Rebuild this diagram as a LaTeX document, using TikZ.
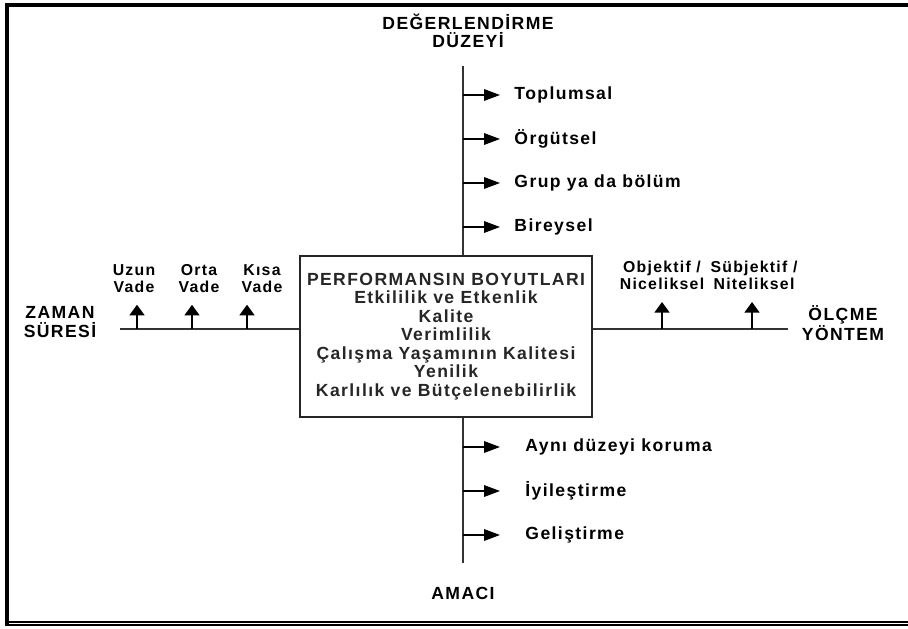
\documentclass[tikz,border=0pt]{standalone}
\usepackage{fontspec}
\setmainfont{Liberation Sans}[LetterSpace=8]
\usetikzlibrary{arrows.meta}

\begin{document}
\begin{tikzpicture}[x=0.02cm, y=-0.02cm, thick, nodes = {align = center}, >={Triangle[width=6.5pt,length=9pt]}]

  \tikzstyle{axis}=[draw, black!80, line width=1.1pt]
  \tikzstyle{lbl}=[font=\bfseries\fontsize{10}{10.4}\selectfont, inner sep=1pt]
  \tikzstyle{small}=[font=\bfseries\fontsize{9}{9.4}\selectfont, inner sep=1pt]
  \tikzstyle{perf}=[draw, black!85, line width=1.1pt, minimum width=5.84cm, minimum height=3.22cm, font=\bfseries\fontsize{10}{10.5}\selectfont]
  \tikzstyle{rarr}=[->, line width=0.9pt, shorten >=0.24cm]
  \tikzstyle{uarr}=[-{Triangle[width=8.5pt,length=6pt]}, line width=0.9pt, shorten >=0.2cm]

  \useasboundingbox (0,0) rectangle (908,628);

  % frame
  \draw[line width=2.3pt] (7,625) -- (7,4.7) -- (908,4.7);
  \draw[line width=1.1pt] (5,621.7) -- (908,621.7);
  \draw[line width=1.1pt] (5,625.3) -- (908,625.3);

  \node[perf] (perf) at (446,336.5) {PERFORMANSIN BOYUTLARI\\Etkililik ve Etkenlik\\Kalite\\Verimlilik\\Çalışma Yaşamının Kalitesi\\Yenilik\\Karlılık ve Bütçelenebilirlik};

  \node[lbl] (duzey) at (468,31) {DEĞERLENDİRME\\DÜZEYİ};
  \node[lbl] (amac) at (463,593) {AMACI};
  \node[lbl] (zaman) at (60,322) {ZAMAN\\SÜRESİ};
  \node[lbl] (olcme) at (843,323) {ÖLÇME\\YÖNTEM};

  \coordinate (vtop) at (463,66);
  \coordinate (vbot) at (463,563);
  \coordinate (hleft) at (120,329);
  \coordinate (hright) at (788,329);

  \draw[axis] (vtop) -- (vtop |- perf.north);
  \draw[axis] (vbot) -- (vbot |- perf.south);
  \draw[axis] (hleft) -- (hleft -| perf.west);
  \draw[axis] (hright) -- (hright -| perf.east);

  % duzey
  \node[lbl, anchor=west] (topl) at (512,95) {Toplumsal};
  \node[lbl, anchor=west] (orgt) at (512,139) {Örgütsel};
  \node[lbl, anchor=west] (grup) at (512,183) {Grup ya da bölüm};
  \node[lbl, anchor=west] (bire) at (512,227) {Bireysel};

  \draw[rarr] (vtop |- topl.west) -- (topl.west);
  \draw[rarr] (vtop |- orgt.west) -- (orgt.west);
  \draw[rarr] (vtop |- grup.west) -- (grup.west);
  \draw[rarr] (vtop |- bire.west) -- (bire.west);

  % amac
  \node[lbl, anchor=west] (koru) at (523,447) {Aynı düzeyi koruma};
  \node[lbl, anchor=west] (iyil) at (523,491) {İyileştirme};
  \node[lbl, anchor=west] (geli) at (523,535) {Geliştirme};

  \draw[rarr, shorten >=0.46cm] (vbot |- koru.west) -- (koru.west);
  \draw[rarr, shorten >=0.46cm] (vbot |- iyil.west) -- (iyil.west);
  \draw[rarr, shorten >=0.46cm] (vbot |- geli.west) -- (geli.west);

  % zaman
  \node[small] (uzun) at (134,278.5) {Uzun\\Vade};
  \node[small] (orta) at (199,278.5) {Orta\\Vade};
  \node[small] (kisa) at (262,278.5) {Kısa\\Vade};

  \coordinate (t1) at (137,329);
  \coordinate (t2) at (192,329);
  \coordinate (t3) at (247,329);

  \draw[uarr] (t1) -- (t1 |- uzun.south);
  \draw[uarr] (t2) -- (t2 |- orta.south);
  \draw[uarr] (t3) -- (t3 |- kisa.south);

  % olcme
  \node[small] (obje) at (662,275.5) {Objektif /\\Niceliksel};
  \node[small] (subj) at (754,275.5) {Sübjektif /\\Niteliksel};

  \coordinate (m1) at (662,329);
  \coordinate (m2) at (752,329);

  \draw[uarr] (m1) -- (m1 |- obje.south);
  \draw[uarr] (m2) -- (m2 |- subj.south);
\end{tikzpicture}
\end{document}
